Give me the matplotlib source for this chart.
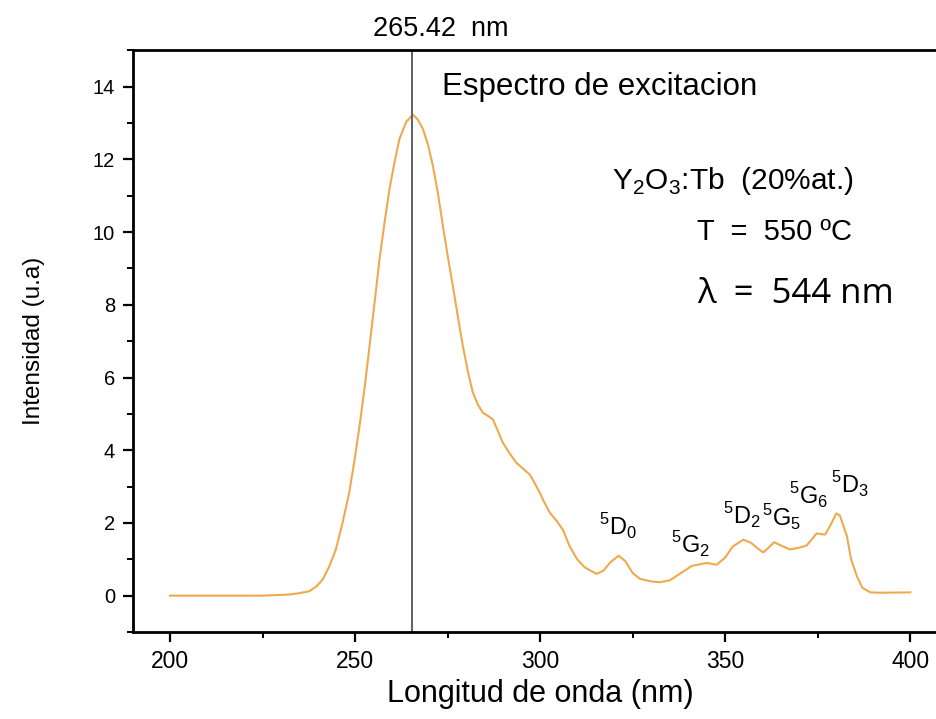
import matplotlib.pyplot as plt
from matplotlib.ticker import MultipleLocator

# Espectro de excitacion
longitud = [200, 225, 232.2, 235, 237.6, 239.5, 241.2, 243, 244.8, 246.6,
            248.4, 249.8, 251.2, 252.6, 253.9, 255.3, 256.6, 258, 259.3,
            260.7, 262.0, 263.8, 265.6, 266.9, 268.3, 269.7, 271.0, 272.4,
            273.7, 275, 276.4, 277.8, 279.1, 280.5, 281.8, 283.2, 284.5,
            285.8, 287.2, 288.5, 289.9, 291.7, 293.5, 295.3, 297.2, 298.5,
            299.9, 301.2, 302.6, 304.5, 306.2, 308, 310, 312, 315.2, 317,
            319, 321.2, 323, 325, 327, 330, 332.3, 335, 338, 341, 345, 347.7,
            350, 352, 354.9, 357, 359, 360.3, 361.5, 363.2, 365, 367.5, 370,
            372, 374.7, 377, 378.5, 380, 381, 382.9, 384, 385.6, 387, 389.2,
            392, 400]
intensidad = [0, 0, 0.03, 0.07, 0.12, 0.25, 0.44, 0.8, 1.27, 2.0,
              2.83, 3.7, 4.67, 5.75, 6.87, 8.1, 9.26, 10.3, 11.19,
              11.95, 12.57, 13.03, 13.23, 13.1, 12.84, 12.4, 11.83, 11.05,
              10.18, 9.35, 8.52, 7.65, 6.87, 6.15, 5.59, 5.25, 5.03,
              4.95, 4.85, 4.55, 4.21, 3.92, 3.66, 3.5, 3.33, 3.1,
              2.83, 2.55, 2.28, 2.05, 1.8, 1.35, 1.0, 0.78, 0.6, 0.68,
              0.92, 1.1, 0.95, 0.62, 0.46, 0.39, 0.37, 0.42, 0.62, 0.82,
              0.9, 0.85, 1.05, 1.35, 1.54, 1.45, 1.28, 1.19, 1.3, 1.47, 1.38,
              1.27, 1.32, 1.38, 1.71, 1.68, 1.95, 2.26, 2.2, 1.63, 1.0, 0.53,
              0.22, 0.09, 0.08, 0.09]

pico = 265.42

transiciones = [r'$^{5}\mathrm{D}_{0}$', r'$^{5}\mathrm{G}_{2}$', r'$^{5}\mathrm{D}_{2}$',
                r'$^{5}\mathrm{G}_{5}$', r'$^{5}\mathrm{G}_{6}$', r'$^{5}\mathrm{D}_{3}$']
trans_x = [321.0, 340.5, 354.5, 365.3, 372.5, 383.8]
trans_y = [1.9, 1.4, 2.2, 2.15, 2.75, 3.05]

plt.rcParams['font.family'] = ['Liberation Sans', 'DejaVu Sans']
plt.rcParams['mathtext.fontset'] = 'custom'
plt.rcParams['mathtext.rm'] = 'Liberation Sans'

fig = plt.figure(figsize=(9.37, 7.19), dpi=100)
ax = fig.add_axes([0.142, 0.121, 0.869, 0.809])

ax.plot(longitud, intensidad, color='#EFA94E', linewidth=1.5)
ax.axvline(pico, color='#606060', linewidth=1.4)

ax.set_xlim(190, 410)
ax.set_ylim(-1, 15)
ax.xaxis.set_major_locator(MultipleLocator(50))
ax.xaxis.set_minor_locator(MultipleLocator(25))
ax.yaxis.set_major_locator(MultipleLocator(2))
ax.yaxis.set_minor_locator(MultipleLocator(1))
ax.tick_params(which='major', direction='out', length=7, width=1.6)
ax.tick_params(which='minor', direction='out', length=4, width=1.4)
ax.tick_params(axis='x', pad=6, labelsize=16.5)
ax.tick_params(axis='y', pad=6, labelsize=14.5)
for s in ax.spines.values():
    s.set_linewidth(2)

ax.set_xlabel('Longitud de onda (nm)', fontsize=22, labelpad=4)
ax.set_ylabel('Intensidad (u.a)', fontsize=17.5, labelpad=34)

ax.text(273.1, 15.6, '265.42  nm', fontsize=19.5, ha='center', va='center',
        clip_on=False)
ax.text(273.6, 14, 'Espectro de excitacion', fontsize=22.5, va='center')
ax.text(319.3, 11.4, r'Y$_{2}$O$_{3}$:Tb  (20%at.)', fontsize=21.5, va='center')
ax.text(342.4, 10.0, 'T  =  550 ºC', fontsize=21, va='center')
ax.text(342.4, 8.3, 'λ  =  544 nm', fontsize=25, va='center',
        family=['Open Sans', 'DejaVu Sans'])

for lab, tx, ty in zip(transiciones, trans_x, trans_y):
    ax.text(tx, ty, lab, fontsize=17, ha='center', va='center')

fig.savefig('out.png', dpi=100)
